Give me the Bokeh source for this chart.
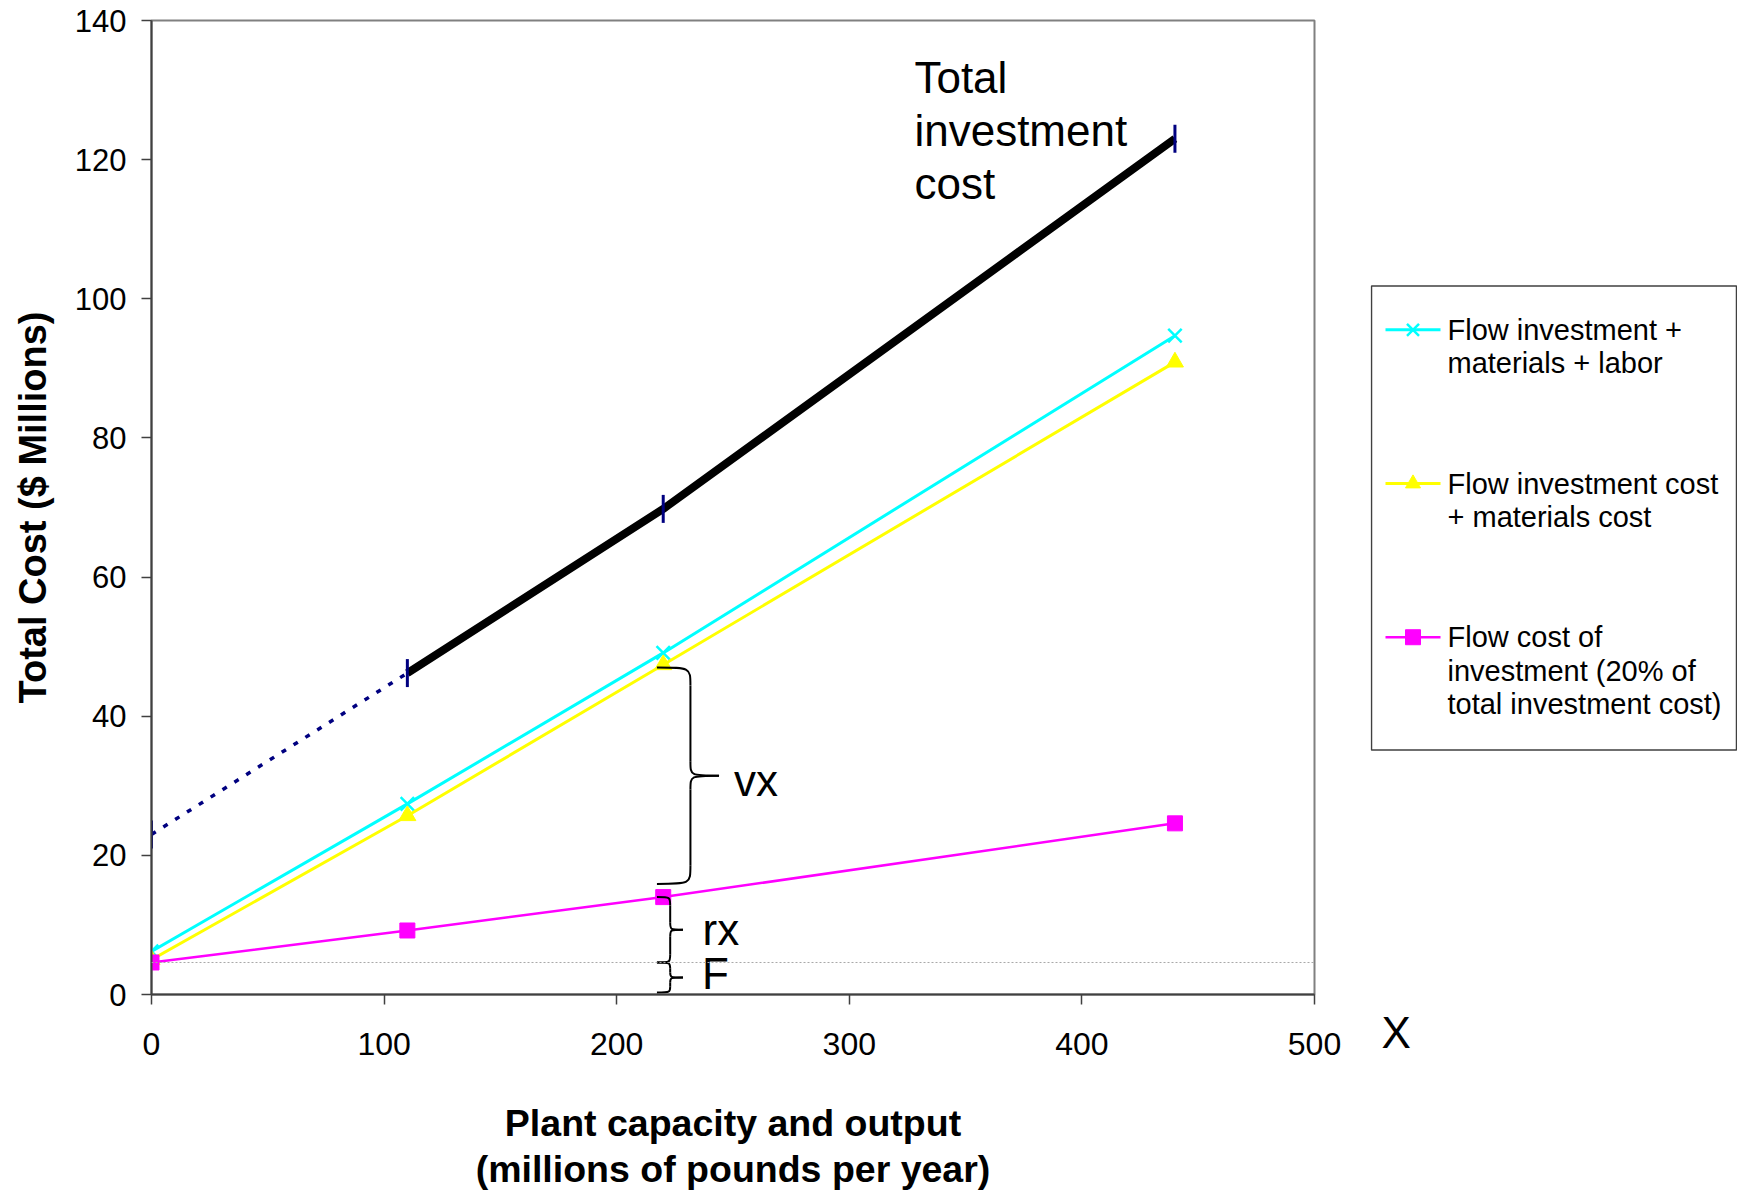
import numpy as np
from bokeh.plotting import figure
from bokeh.layouts import row
from bokeh.models import Span, Range1d, SingleIntervalTicker, Title
from bokeh.core.properties import value
from bokeh.embed import file_html
from bokeh.resources import INLINE

# ---- data ----
capacity = [0, 110, 220, 440]
total_investment = [23.0, 46.2, 69.8, 123.0]
flow_inv_mat_labor = [6.2, 27.4, 49.1, 94.7]
flow_inv_mat = [5.0, 25.7, 47.4, 90.9]
flow_cost_inv = [4.6, 9.2, 14.0, 24.6]

x_ticks_interval = 100
y_ticks_interval = 20

series_names = ["Flow investment + materials + labor",
                "Flow investment cost + materials cost",
                "Flow cost of investment (20% of total investment cost)"]
legend_lines = [
    ["Flow investment +", "materials + labor"],
    ["Flow investment cost", "+ materials cost"],
    ["Flow cost of", "investment (20% of", "total investment cost)"],
]
series_colors = ["#00FFFF", "#FFFF00", "#FF00FF"]
series_markers = ["x", "triangle", "square"]
series_widths = [3, 3, 2.5]

brace_labels = ["vx", "rx", "F"]
brace_ranges = [(47.0, 15.9), (14.0, 4.6), (4.6, 0.3)]

FONT = "Liberation Sans"

# ---------------- main chart ----------------
p = figure(width=1370, height=1192, output_backend="svg", toolbar_location=None,
           x_range=Range1d(0, 500), y_range=Range1d(0, 140),
           min_border_left=151, min_border_right=56, min_border_top=20, min_border_bottom=196)
p.background_fill_color = "white"
p.border_fill_color = "white"
p.outline_line_color = "#808080"
p.outline_line_width = 2
p.xgrid.visible = False
p.ygrid.visible = False

for ax in (p.xaxis[0], p.yaxis[0]):
    ax.axis_line_color = "#404040"
    ax.axis_line_width = 2
    ax.major_tick_line_color = "#404040"
    ax.major_tick_line_width = 1.5
    ax.major_tick_out = 10
    ax.major_tick_in = 0
    ax.minor_tick_line_color = None
    ax.major_label_text_font = FONT
    ax.major_label_text_color = "black"
    ax.axis_label_text_font = FONT
    ax.axis_label_text_font_size = "38px"
    ax.axis_label_text_font_style = "bold"
    ax.axis_label_text_color = "black"

p.xaxis.axis_label_text_font_size = "37.5px"
p.xaxis.major_label_text_font_size = "32px"
p.yaxis.major_label_text_font_size = "31px"
p.xaxis.ticker = SingleIntervalTicker(interval=x_ticks_interval)
p.yaxis.ticker = SingleIntervalTicker(interval=y_ticks_interval)
p.xaxis.axis_label = "Plant capacity and output\n(millions of pounds per year)"
p.yaxis.axis_label = "Total Cost ($ Millions)"
p.xaxis.major_label_standoff = 28
p.yaxis.major_label_standoff = 15
p.xaxis.axis_label_standoff = 44
p.yaxis.axis_label_standoff = 18
p.xaxis.axis_label_text_line_height = 1.1

# F reference line
p.add_layout(Span(location=flow_cost_inv[0], dimension="width", line_color="#a8a8a8",
                  line_width=1, line_dash="2 2"))

# total investment: dotted navy (0..220) + thick black (110..440)
p.line(capacity[:3], total_investment[:3], line_color="#000080", line_width=3.5, line_dash="5 9")
p.line(capacity[1:], total_investment[1:], line_color="black", line_width=8)
p.scatter(capacity, total_investment, marker="dash", angle=np.pi / 2, size=28,
          line_color="#000080", line_width=3)

# series
series_values = [flow_inv_mat_labor, flow_inv_mat, flow_cost_inv]
for vals, col, mk, lw in zip(series_values, series_colors, series_markers, series_widths):
    p.line(capacity, vals, line_color=col, line_width=lw)
    if mk == "x":
        p.scatter(capacity, vals, marker=mk, size=19, line_color=col, line_width=2.5)
    else:
        p.scatter(capacity, vals, marker=mk, size=17 if mk == "triangle" else 15,
                  fill_color=col, line_color=col)

# braces
def brace(x_end, x_v, x_tip, y_top, y_bot, h_end, h_tip):
    ym = (y_top + y_bot) / 2
    bz = dict(x0=[], y0=[], x1=[], y1=[], cx0=[], cy0=[], cx1=[], cy1=[])
    def add(a, b, c):
        bz["x0"].append(a[0]); bz["y0"].append(a[1])
        bz["x1"].append(b[0]); bz["y1"].append(b[1])
        bz["cx0"].append(c[0]); bz["cy0"].append(c[1])
        bz["cx1"].append(c[0]); bz["cy1"].append(c[1])
    add((x_end, y_top), (x_v, y_top - h_end), (x_v, y_top))
    add((x_v, ym + h_tip), (x_tip, ym), (x_v, ym))
    add((x_tip, ym), (x_v, ym - h_tip), (x_v, ym))
    add((x_v, y_bot + h_end), (x_end, y_bot), (x_v, y_bot))
    seg = dict(x0=[x_v, x_v], y0=[y_top - h_end, ym - h_tip],
               x1=[x_v, x_v], y1=[ym + h_tip, y_bot + h_end])
    return bz, seg

brace_geo = [
    (217.3, 231.7, 244.0, 2.6, 2.0),
    (217.3, 223.0, 228.5, 1.2, 1.0),
    (217.3, 223.0, 228.5, 0.9, 0.7),
]
for (yt, yb), (xe, xv, xt, he, ht) in zip(brace_ranges, brace_geo):
    bz, seg = brace(xe, xv, xt, yt, yb, he, ht)
    p.bezier(line_color="black", line_width=2, **bz)
    p.segment(line_color="black", line_width=2, **seg)

p.text(x=[250.4, 236.9, 236.7], y=[30.8, 9.3, 3.0], text=brace_labels,
       text_font=value(FONT), text_font_size="44px", text_baseline="alphabetic",
       text_align="left", text_color="black")

p.text(x=[328.0, 328.0, 328.0], y=[131.8, 124.2, 116.6], text=["Total", "investment", "cost"],
       text_font=value(FONT), text_font_size="44px", text_baseline="alphabetic",
       text_align="left", text_color="black")

# ---------------- legend panel (right side) ----------------
# its frame is aligned with the main frame (page y 20..996), so use page pixel rows
q = figure(width=367, height=1192, output_backend="svg", toolbar_location=None,
           x_range=Range1d(0, 367), y_range=Range1d(996, 20),
           x_axis_location=None, y_axis_location=None,
           min_border=0, min_border_left=0, min_border_right=0,
           min_border_top=20, min_border_bottom=196)
q.outline_line_color = None
q.background_fill_color = "white"
q.border_fill_color = "white"
q.xgrid.visible = False
q.ygrid.visible = False

box_left, box_right, box_top, box_bottom = 1.0, 366.0, 286.0, 751.0
q.quad(left=[box_left], right=[box_right], top=[box_top], bottom=[box_bottom],
       fill_color="white", line_color="#404040", line_width=1.5)

item_y = [330.0, 484.0, 638.0]
line_pitch = 33.5
text_shift = 11.0  # baseline correction for rendering
glyph_x0, glyph_x1, text_x = 15.0, 70.0, 77.0
for iy, col, mk, lw, lines in zip(item_y, series_colors, series_markers, series_widths, legend_lines):
    q.segment(x0=[glyph_x0], y0=[iy], x1=[glyph_x1], y1=[iy], line_color=col, line_width=lw)
    gx = (glyph_x0 + glyph_x1) / 2
    if mk == "x":
        q.scatter([gx], [iy], marker=mk, size=17, line_color=col, line_width=2.5)
    else:
        q.scatter([gx], [iy], marker=mk, size=15, fill_color=col, line_color=col)
    ys = [iy + 11 + k * line_pitch - text_shift for k in range(len(lines))]
    q.text(x=[text_x] * len(lines), y=ys, text=lines, text_font=value(FONT),
           text_font_size="29px", text_baseline="alphabetic", text_align="left",
           text_color="black")

q.add_layout(Title(text="X", align="left", offset=11, standoff=23, text_font=FONT,
                   text_font_size="44px", text_font_style="normal", text_color="black"),
             "below")

layout = row(p, q, spacing=0)
open("out.html", "w").write(file_html(layout, INLINE))
